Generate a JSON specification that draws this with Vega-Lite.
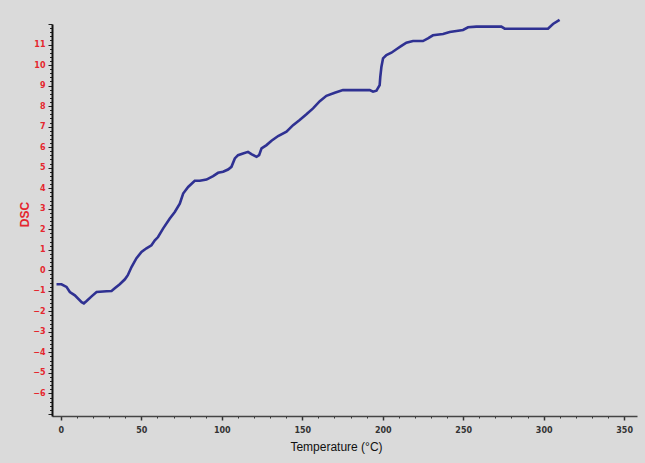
{
  "$schema": "https://vega.github.io/schema/vega-lite/v6.json",
  "autosize": "none",
  "width": 585,
  "height": 392,
  "padding": {"left": 52, "top": 24, "right": 8, "bottom": 47},
  "background": "#dadada",
  "config": {"view": {"stroke": null}},
  "data": {"values": [
    {"t": -2.7, "dsc": -0.68}, {"t": 0.4, "dsc": -0.68}, {"t": 3.5, "dsc": -0.81}, {"t": 5.6, "dsc": -1.06},
    {"t": 8.7, "dsc": -1.22}, {"t": 12.9, "dsc": -1.55}, {"t": 14.3, "dsc": -1.61}, {"t": 16.0, "dsc": -1.5},
    {"t": 19.1, "dsc": -1.27}, {"t": 22.2, "dsc": -1.06}, {"t": 28.4, "dsc": -1.02}, {"t": 31.5, "dsc": -1.01},
    {"t": 33.5, "dsc": -0.88}, {"t": 36.6, "dsc": -0.68}, {"t": 39.8, "dsc": -0.44}, {"t": 41.6, "dsc": -0.24},
    {"t": 43.9, "dsc": 0.16}, {"t": 47.0, "dsc": 0.59}, {"t": 50.1, "dsc": 0.89}, {"t": 53.2, "dsc": 1.07},
    {"t": 56.3, "dsc": 1.22}, {"t": 58.4, "dsc": 1.46}, {"t": 60.4, "dsc": 1.62}, {"t": 63.5, "dsc": 2.03},
    {"t": 67.7, "dsc": 2.52}, {"t": 70.8, "dsc": 2.84}, {"t": 73.9, "dsc": 3.25}, {"t": 76.0, "dsc": 3.74},
    {"t": 79.1, "dsc": 4.06}, {"t": 83.2, "dsc": 4.36}, {"t": 86.3, "dsc": 4.36}, {"t": 90.5, "dsc": 4.42},
    {"t": 94.6, "dsc": 4.59}, {"t": 97.7, "dsc": 4.75}, {"t": 100.8, "dsc": 4.8}, {"t": 103.9, "dsc": 4.91},
    {"t": 106.0, "dsc": 5.04}, {"t": 108.1, "dsc": 5.45}, {"t": 110.1, "dsc": 5.61}, {"t": 113.2, "dsc": 5.69},
    {"t": 116.3, "dsc": 5.77}, {"t": 118.4, "dsc": 5.66}, {"t": 121.6, "dsc": 5.53}, {"t": 123.2, "dsc": 5.61},
    {"t": 124.7, "dsc": 5.94}, {"t": 127.8, "dsc": 6.1}, {"t": 130.9, "dsc": 6.31}, {"t": 135.0, "dsc": 6.54},
    {"t": 140.2, "dsc": 6.75}, {"t": 144.3, "dsc": 7.07}, {"t": 148.4, "dsc": 7.32}, {"t": 152.6, "dsc": 7.6},
    {"t": 156.7, "dsc": 7.89}, {"t": 160.9, "dsc": 8.24}, {"t": 165.0, "dsc": 8.5}, {"t": 170.2, "dsc": 8.65},
    {"t": 175.3, "dsc": 8.78}, {"t": 183.6, "dsc": 8.78}, {"t": 191.9, "dsc": 8.78}, {"t": 194.0, "dsc": 8.7},
    {"t": 196.1, "dsc": 8.75}, {"t": 198.1, "dsc": 9.02}, {"t": 198.5, "dsc": 9.43}, {"t": 199.2, "dsc": 9.92},
    {"t": 200.2, "dsc": 10.33}, {"t": 202.3, "dsc": 10.49}, {"t": 205.4, "dsc": 10.6}, {"t": 208.5, "dsc": 10.77},
    {"t": 211.6, "dsc": 10.93}, {"t": 214.7, "dsc": 11.09}, {"t": 218.8, "dsc": 11.17}, {"t": 225.0, "dsc": 11.17},
    {"t": 228.1, "dsc": 11.3}, {"t": 231.2, "dsc": 11.45}, {"t": 237.5, "dsc": 11.51}, {"t": 241.6, "dsc": 11.61},
    {"t": 245.8, "dsc": 11.66}, {"t": 249.9, "dsc": 11.71}, {"t": 253.0, "dsc": 11.84}, {"t": 258.2, "dsc": 11.87},
    {"t": 273.7, "dsc": 11.87}, {"t": 275.8, "dsc": 11.77}, {"t": 302.7, "dsc": 11.77}, {"t": 305.8, "dsc": 12.0},
    {"t": 309.9, "dsc": 12.2}
  ]},
  "mark": {"type": "line", "color": "#2f3192", "strokeWidth": 2.6, "clip": false},
  "encoding": {
    "x": {
      "field": "t", "type": "quantitative",
      "scale": {"domain": [-5.5, 358], "nice": false, "zero": false},
      "axis": {
        "title": "Temperature (°C)",
        "titleFont": "Liberation Sans", "titleFontSize": 12, "titleFontWeight": "normal", "titleColor": "#111111",
        "titlePadding": 7, "titleX": 284, "titleAlign": "center",
        "values": [0,10,20,30,40,50,60,70,80,90,100,110,120,130,140,150,160,170,180,190,200,210,220,230,240,250,260,270,280,290,300,310,320,330,340,350],
        "labelExpr": "datum.value % 50 === 0 ? format(datum.value, 'd') : ''",
        "labelFont": "DejaVu Sans", "labelFontSize": 8, "labelFontWeight": "bold", "labelColor": "#333333",
        "labelPadding": 6, "labelOverlap": false, "labelFlush": false,
        "grid": false, "domainColor": "#444444", "domainWidth": 1.5,
        "tickColor": "#333333",
        "tickSize": {"condition": {"test": "datum.value % 50 === 0", "value": 4}, "value": 2},
        "tickWidth": {"condition": {"test": "datum.value % 50 === 0", "value": 1.5}, "value": 1}
      }
    },
    "y": {
      "field": "dsc", "type": "quantitative",
      "scale": {"domain": [-7.1, 12], "nice": false, "zero": false},
      "axis": {
        "title": "DSC",
        "titleFont": "Liberation Sans", "titleFontSize": 12, "titleFontWeight": "bold", "titleColor": "#e5262e",
        "titleX": -28, "titleY": 190, "titleAlign": "center", "titleAngle": -90, "titleBaseline": "middle",
        "values": [-7,-6.8,-6.6,-6.4,-6.2,-6,-5.8,-5.6,-5.4,-5.2,-5,-4.8,-4.6,-4.4,-4.2,-4,-3.8,-3.6,-3.4,-3.2,-3,-2.8,-2.6,-2.4,-2.2,-2,-1.8,-1.6,-1.4,-1.2,-1,-0.8,-0.6,-0.4,-0.2,0,0.2,0.4,0.6,0.8,1,1.2,1.4,1.6,1.8,2,2.2,2.4,2.6,2.8,3,3.2,3.4,3.6,3.8,4,4.2,4.4,4.6,4.8,5,5.2,5.4,5.6,5.8,6,6.2,6.4,6.6,6.8,7,7.2,7.4,7.6,7.8,8,8.2,8.4,8.6,8.8,9,9.2,9.4,9.6,9.8,10,10.2,10.4,10.6,10.8,11,11.2,11.4,11.6,11.8,12],
        "labelExpr": "abs(datum.value - round(datum.value)) < 0.001 && datum.value > -6.5 && datum.value < 11.5 ? format(round(datum.value), 'd') : ''",
        "labelFont": "DejaVu Sans", "labelFontSize": 8, "labelFontWeight": "bold", "labelColor": "#e5262e",
        "labelPadding": 3, "labelOverlap": false, "labelFlush": false,
        "grid": false, "domainColor": "#111111", "domainWidth": 2,
        "tickColor": "#222222",
        "tickSize": {"condition": {"test": "abs(datum.value - round(datum.value)) < 0.001", "value": 4}, "value": 2.5},
        "tickWidth": 1
      }
    }
  }
}
